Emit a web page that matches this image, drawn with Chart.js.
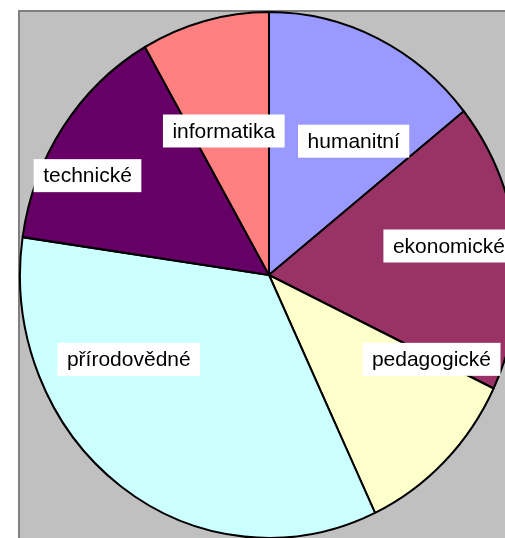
<!DOCTYPE html>
<html>
<head>
<meta charset="utf-8">
<script src="https://cdn.jsdelivr.net/npm/chart.js@4.4.1/dist/chart.umd.min.js"></script>
<style>
  html, body { margin: 0; padding: 0; background: #fff; overflow: hidden; }
  canvas { display: block; }
</style>
</head>
<body>
<canvas id="oboryChart" width="505" height="538"></canvas>
<script>
// podíl oborů (%), čteno z obrázku
const categories = ["humanitní", "ekonomické", "pedagogické", "přírodovědné", "technické", "informatika"];
const shares = [14.3, 17.8, 10.9, 34.3, 14.4, 8.3];
const sliceColors = ["#9999FF", "#993366", "#FFFFCC", "#CCFFFF", "#660066", "#FF8080"];

// where each label sits relative to its slice: angle shift (deg) and radius fraction
const labelShift = [8, -2.2, -19, 23.8, -6.8, -3.4];
const labelRadius = [0.612, 0.731, 0.727, 0.648, 0.821, 0.577];

// the pie in the picture is a bit taller than wide
const stretchY = 1.056;

const plotBackground = {
    id: "plotBackground",
    beforeDraw(chart) {
        const ctx = chart.ctx;
        ctx.save();
        ctx.fillStyle = "#C0C0C0";
        ctx.fillRect(19, 10, chart.width - 19, chart.height - 10);
        ctx.strokeStyle = "#808080";
        ctx.lineWidth = 2;
        ctx.beginPath();
        ctx.moveTo(19, chart.height);
        ctx.lineTo(19, 11);
        ctx.lineTo(chart.width, 11);
        ctx.stroke();
        ctx.restore();
    }
};

const ellipsePie = {
    id: "ellipsePie",
    beforeDatasetsDraw(chart) {
        const arc = chart.getDatasetMeta(0).data[0];
        const ctx = chart.ctx;
        ctx.save();
        ctx.translate(arc.x, arc.y);
        ctx.scale(1, stretchY);
        ctx.translate(-arc.x, -arc.y);
    },
    afterDatasetsDraw(chart) {
        const ctx = chart.ctx;
        ctx.restore();

        // data labels in white boxes
        const meta = chart.getDatasetMeta(0);
        ctx.save();
        ctx.font = "21px 'Liberation Sans', Arial, sans-serif";
        ctx.textAlign = "center";
        ctx.textBaseline = "middle";
        meta.data.forEach((arc, i) => {
            const mid = (arc.startAngle + arc.endAngle) / 2 + labelShift[i] * Math.PI / 180;
            const r = arc.outerRadius * labelRadius[i];
            const x = arc.x + Math.cos(mid) * r;
            const y = arc.y + Math.sin(mid) * r * stretchY;
            const w = ctx.measureText(categories[i]).width + 19;
            const h = 33;
            ctx.fillStyle = "#FFFFFF";
            ctx.fillRect(x - w / 2, y - h / 2, w, h);
            ctx.fillStyle = "#000000";
            ctx.fillText(categories[i], x, y + 1);
        });
        ctx.restore();
    }
};

new Chart(document.getElementById("oboryChart"), {
    type: "pie",
    data: {
        labels: categories,
        datasets: [{
            data: shares,
            backgroundColor: sliceColors,
            borderColor: "#000000",
            borderWidth: 2,
            radius: 249,
            clip: false
        }]
    },
    options: {
        responsive: false,
        animation: false,
        layout: { padding: { left: 33, top: 12, right: 0, bottom: 0 } },
        plugins: {
            legend: { display: false },
            tooltip: { enabled: false }
        }
    },
    plugins: [plotBackground, ellipsePie]
});
</script>
</body>
</html>
